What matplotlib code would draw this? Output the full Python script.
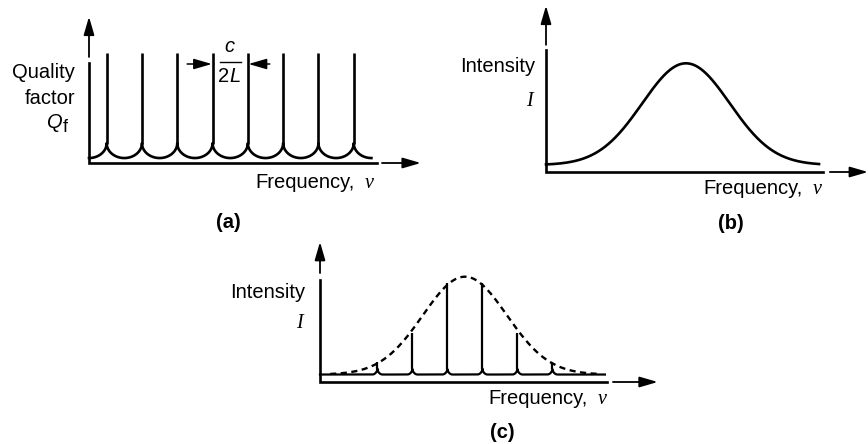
import numpy as np
import matplotlib
matplotlib.use('Agg')
import matplotlib.pyplot as plt

## data ########################################################################
# (a) cavity modes, spaced c/2L apart
modePos    = np.arange(8) + 0.5
modeHeight = np.ones(8)
# (b) gain profile of the medium
gainCenter, gainWidth, gainFloor = 4.0, 1.25, 0.064
# (c) modes that survive under the gain curve
outPos    = np.array([1.64, 2.64, 3.64, 4.64, 5.64, 6.64])
outHeight = np.array([0.19, 0.47, 0.94, 0.94, 0.47, 0.19])
envCenter, envWidth, envFloor = 4.14, 1.2, 0.071

## options #####################################################################
W, H = 868, 444
LW = 1.9
fSize = 14.5
sans = 'Liberation Sans'
serif = 'Liberation Serif'

fig = plt.figure(figsize=(W/100., H/100.), dpi=100, facecolor='white')


def panel(ox, oy, sx, sy, left, right, top, bottom):
    # axes whose data origin sits at pixel (ox, oy), sx/sy pixels per unit
    ax = fig.add_axes([left/W, 1-bottom/H, (right-left)/W, (bottom-top)/H])
    ax.set_xlim((left-ox)/sx, (right-ox)/sx)
    ax.set_ylim((oy-bottom)/sy, (oy-top)/sy)
    ax.axis('off')
    return ax


def arrow(ax, start, tip, lw=1.3):
    ax.annotate('', xy=tip, xytext=start, annotation_clip=False,
                arrowprops=dict(arrowstyle='-|>,head_length=1.1,head_width=0.32',
                                lw=lw, color='black', shrinkA=0, shrinkB=0,
                                mutation_scale=10))


def axes_lines(ax, yTop, yShaft, yTip, xEnd, xShaft, xTip):
    ax.plot([0, 0, xEnd], [yTop, 0, 0], color='black', lw=LW,
            solid_joinstyle='miter', clip_on=False)
    arrow(ax, (0, yShaft), (0, yTip))
    arrow(ax, (xShaft, 0), (xTip, 0))


def floor_line(x, peaks, base, halfW, rise):
    # rounded feet that climb into each spike
    d = np.min(np.abs(x[:, None] - peaks[None, :]), axis=1)
    t = np.clip(1 - d/halfW, 0, 1)
    return base + rise*(1 - np.sqrt(1 - t**2))


def gauss(x, c, s, base):
    return base + (1-base)*np.exp(-(x-c)**2/(2*s**2))


def ptext(x, y, s, **kw):
    kw.setdefault('family', sans)
    kw.setdefault('fontsize', fSize)
    kw.setdefault('va', 'center')
    fig.text(x/W, 1-y/H, s, **kw)


def freq_label(xRight, y):
    ptext(xRight-24, y, 'Frequency,', ha='right')
    ptext(xRight-14, y+1, '\u03bd', ha='left', family=serif, style='italic')


## (a) #########################################################################
axA = panel(89, 163, 35.3, 110, 80, 430, 10, 170)
axes_lines(axA, 0.91, 0.964, 1.33, 8.16, 8.3, 9.4)
xa = np.linspace(0, 8, 2001)
axA.plot(xa, floor_line(xa, modePos, 0.045, 0.5, 0.135), color='black',
         lw=LW, clip_on=False)
axA.vlines(modePos, 0.17, modeHeight, color='black', lw=LW)

# mode spacing marker
arrow(axA, (modePos[2]+0.28, 0.9), (modePos[3]-0.02, 0.9), lw=1.1)
arrow(axA, (modePos[4]+0.62, 0.9), (modePos[4]+0.02, 0.9), lw=1.1)
ptext(229, 46, 'c', ha='center', style='italic')
fig.add_artist(plt.Line2D([220/W, 241/W], [1-62/H, 1-62/H], color='black', lw=1.0))
ptext(229, 77, '2', ha='right')
ptext(229, 77, 'L', ha='left', style='italic')

ptext(75, 72, 'Quality', ha='right')
ptext(75, 98, 'factor', ha='right')
ptext(63, 123, 'Q', ha='right', style='italic')
ptext(63, 127, 'f', ha='left', fontsize=fSize-1.5)
freq_label(379, 183)
ptext(228, 222, '(a)', ha='center', fontweight='bold')

## (b) #########################################################################
axB = panel(546, 172, 35, 108.7, 540, 868, 0, 180)
axes_lines(axB, 1.12, 1.17, 1.53, 7.91, 8.11, 9.2)
xb = np.linspace(0, 7.8, 500)
axB.plot(xb, gauss(xb, gainCenter, gainWidth, gainFloor), color='black',
         lw=LW, clip_on=False)
ptext(535, 67, 'Intensity', ha='right')
ptext(529, 102, 'I', ha='center', family=serif, style='italic')
freq_label(827, 188)
ptext(731, 223, '(b)', ha='center', fontweight='bold')

## (c) #########################################################################
axC = panel(320, 382, 35, 105.3, 310, 665, 235, 390)
axes_lines(axC, 0.97, 1.035, 1.33, 8.2, 8.37, 9.65)
xc = np.linspace(0, 8.14, 2001)
axC.plot(xc, floor_line(xc, outPos, envFloor, 0.15, 0.06), color='black',
         lw=1.6, clip_on=False)
axC.vlines(outPos, envFloor+0.05, outHeight, color='black', lw=1.6)
xe = np.linspace(0.29, 8.0, 500)
axC.plot(xe, gauss(xe, envCenter, envWidth, envFloor), color='black',
         lw=1.7, ls=(0, (2.6, 1.9)), clip_on=False)
ptext(305, 292, 'Intensity', ha='right')
ptext(299, 323, 'I', ha='center', family=serif, style='italic')
freq_label(612, 398)
ptext(502, 432, '(c)', ha='center', fontweight='bold')

plt.savefig('out.png', dpi=100, facecolor='white')
